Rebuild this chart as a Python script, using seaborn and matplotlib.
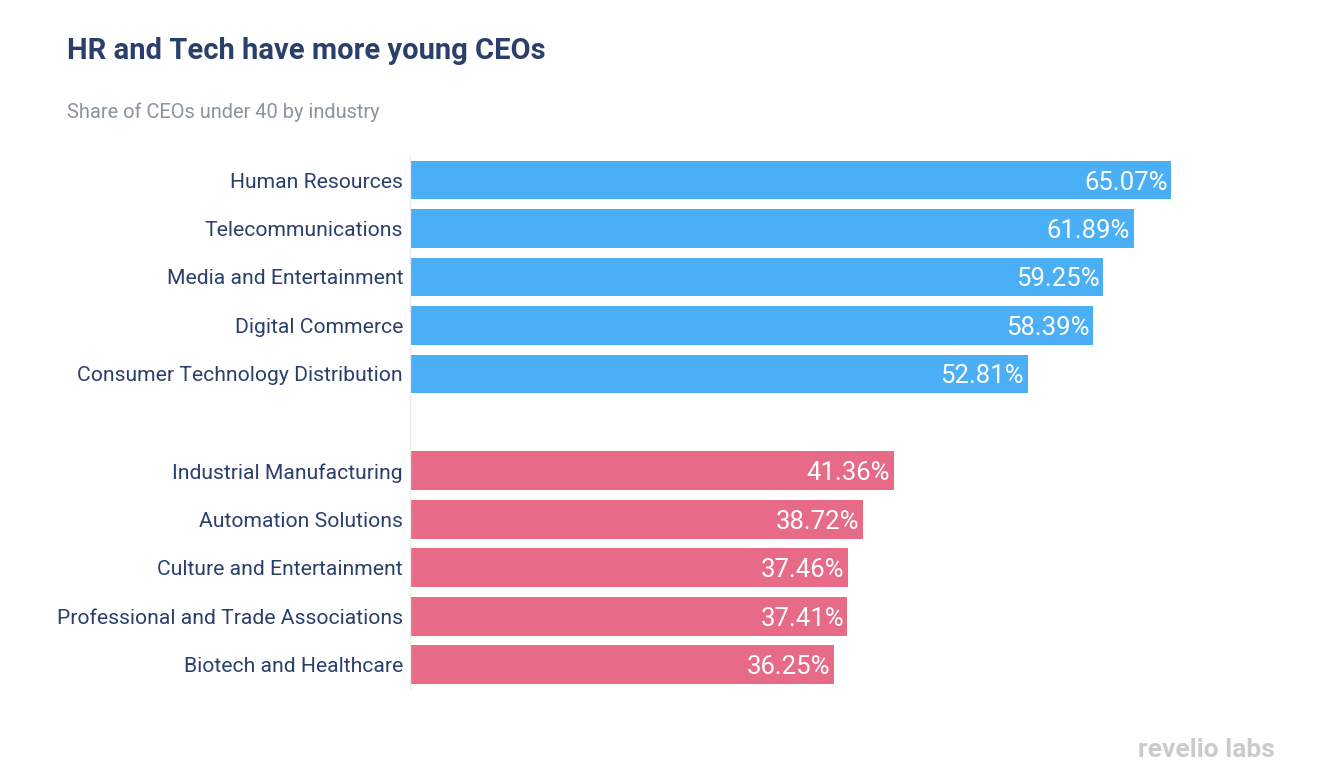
import matplotlib.pyplot as plt
import seaborn as sns
import pandas as pd

industries = ["Human Resources", "Telecommunications", "Media and Entertainment",
              "Digital Commerce", "Consumer Technology Distribution",
              "Industrial Manufacturing", "Automation Solutions",
              "Culture and Entertainment", "Professional and Trade Associations",
              "Biotech and Healthcare"]
shares = [65.07, 61.89, 59.25, 58.39, 52.81, 41.36, 38.72, 37.46, 37.41, 36.25]
groups = ["young"] * 5 + ["old"] * 5

df = pd.DataFrame({"industry": industries, "share": shares, "group": groups})
order = industries[:5] + ["__gap__"] + industries[5:]

sns.set_style("white")
plt.rcParams['font.family'] = ['Roboto', 'DejaVu Sans']

navy = "#2a3f6a"
fig = plt.figure(figsize=(13.26, 7.8), dpi=100)
ax = fig.add_axes([0.3092, 0.1167, 0.6614, 0.6836])

sns.barplot(data=df, x="share", y="industry", hue="group", order=order,
            palette={"young": "#4aaff4", "old": "#e76a86"}, dodge=False,
            width=0.8, saturation=1, legend=False, ax=ax, edgecolor="none")

ax.set_xlim(0, 75)
ax.set_xlabel("")
ax.set_ylabel("")
ax.set_xticks([])
ax.set_yticks(range(len(order)))
ax.set_yticklabels([o if o != "__gap__" else "" for o in order],
                   fontsize=15.2, color=navy)
ax.tick_params(axis="y", length=0, pad=5)
for s in ["top", "right", "bottom"]:
    ax.spines[s].set_visible(False)
ax.spines["left"].set_color("#e8ebee")
ax.spines["left"].set_linewidth(1)

for name, val in zip(industries, shares):
    ax.text(val - 0.3, order.index(name), f"{val:.2f}%", ha="right",
            va="center_baseline", color="white", fontsize=18.5)

fig.text(67 / 1326, 1 - 51 / 780, "HR and Tech have more young CEOs",
         fontsize=21, fontweight="bold", color=navy, va="center", ha="left")
fig.text(67 / 1326, 1 - 112 / 780, "Share of CEOs under 40 by industry",
         fontsize=14.4, color="#8a949e", va="center", ha="left")
fig.text(1275 / 1326, 1 - 750 / 780, "revelio labs", fontsize=19,
         fontweight="semibold", color="#c9cbcd", va="center", ha="right")

plt.savefig("out.png", dpi=100)
